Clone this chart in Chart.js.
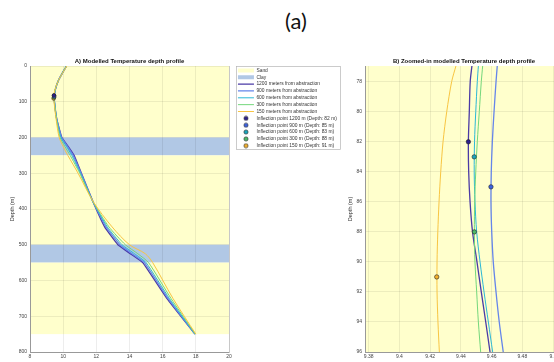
<!DOCTYPE html>
<html>
<head>
<meta charset="utf-8">
<script src="https://cdn.jsdelivr.net/npm/chart.js@4.4.1/dist/chart.umd.min.js"></script>
<style>
  html, body { margin: 0; padding: 0; background: #fff; }
  body { width: 554px; height: 362px; overflow: hidden; position: relative; }
  #caption { position: absolute; left: 256px; width: 80px; top: 7px; text-align: center;
             font: 22px Lato, 'Open Sans', sans-serif; color: #111; }
  #chartA { position: absolute; left: 0; top: 55px; }
  #chartB { position: absolute; left: 340px; top: 55px; }
</style>
</head>
<body>
<div id="caption">(a)</div>
<canvas id="chartA" width="350" height="307"></canvas>
<canvas id="chartB" width="230" height="307"></canvas>
<script>
// distances of the profiles from the abstraction well (m)
const distances = ['1200', '900', '600', '300', '150'];

// full profile: depth (m) and temperature (°C)
const depthFull = [0, 20, 40, 60, 80, 100, 150, 200, 225, 250, 300, 380, 450, 500, 525, 550, 650, 750];
const tFull1200 = [10.2, 9.95, 9.72, 9.56, 9.47, 9.47, 9.62, 9.92, 10.3, 10.66, 11.1, 11.8, 12.5, 13.3, 14.05, 14.8, 16.25, 17.95];
const tFull900  = [10.2, 9.95, 9.72, 9.56, 9.47, 9.48, 9.62, 9.9, 10.26, 10.6, 11.08, 11.8, 12.58, 13.42, 14.15, 14.9, 16.32, 17.95];
const tFull600  = [10.2, 9.95, 9.72, 9.56, 9.47, 9.48, 9.61, 9.86, 10.2, 10.52, 11.04, 11.8, 12.66, 13.55, 14.3, 15.0, 16.4, 17.95];
const tFull300  = [10.2, 9.95, 9.72, 9.56, 9.46, 9.47, 9.6, 9.81, 10.1, 10.42, 11.0, 11.8, 12.76, 13.75, 14.5, 15.15, 16.5, 17.97];
const tFull150  = [10.22, 9.96, 9.72, 9.55, 9.44, 9.45, 9.58, 9.76, 10.0, 10.28, 10.9, 11.82, 12.95, 14.0, 14.95, 15.4, 16.62, 18.0];

// zoomed profile around the inflection points
const depthZoom = [76.95, 78, 80, 82, 84, 86, 88, 90, 92, 94, 96];
const tZoom1200 = [9.4472, 9.4461, 9.4455, 9.4449, 9.4451, 9.4460, 9.4476, 9.4505, 9.4533, 9.4562, 9.4590];
const tZoom900  = [9.4637, 9.4629, 9.4616, 9.4605, 9.4598, 9.4596, 9.4601, 9.4611, 9.4629, 9.4650, 9.4676];
const tZoom600  = [9.4514, 9.4507, 9.4497, 9.4489, 9.4487, 9.4492, 9.4503, 9.4525, 9.4551, 9.4579, 9.4607];
const tZoom300  = [9.4542, 9.4533, 9.4520, 9.4507, 9.4497, 9.4490, 9.4488, 9.4492, 9.4503, 9.4514, 9.4529];
const tZoom150  = [9.4368, 9.4340, 9.4308, 9.4284, 9.4269, 9.4258, 9.4250, 9.4245, 9.4245, 9.4251, 9.4260];

// inflection points (same order as distances)
const inflDepth = [82, 85, 83, 88, 91];
const inflTemp  = [9.4449, 9.4596, 9.4487, 9.4488, 9.4243];

// geological layers
const layerTop  = [0, 200, 250, 500, 550];
const layerBase = [200, 250, 500, 550, 750];
const layerType = ['Sand', 'Clay', 'Sand', 'Clay', 'Sand'];

const SAND = '#ffffcc';
const CLAY = '#b1c8e5';
const GRID = 'rgba(0,0,0,0.07)';
const lineColors  = ['#4a3aa6', '#6585ea', '#2bb8d6', '#74d77c', '#f8c542'];
const lineWidths  = [1.3, 1.3, 1, 1, 1];
const pointColors = ['#2c1f8c', '#3b62e2', '#19a5bd', '#4dba68', '#f4b12d'];

Chart.defaults.font.family = "'Liberation Sans', Arial, sans-serif";
Chart.defaults.color = '#444';
Chart.defaults.animation = false;

const layerPlugin = {
  id: 'layers',
  beforeDraw(chart) {
    const {ctx, chartArea: a} = chart;
    const y = chart.scales.y;
    ctx.save();
    ctx.beginPath();
    ctx.rect(a.left, a.top, a.right - a.left, a.bottom - a.top);
    ctx.clip();
    layerTop.forEach((top, i) => {
      const y0 = y.getPixelForValue(top);
      const y1 = y.getPixelForValue(layerBase[i]);
      ctx.fillStyle = layerType[i] === 'Clay' ? CLAY : SAND;
      ctx.fillRect(a.left, Math.min(y0, y1), a.right - a.left, Math.abs(y1 - y0));
    });
    ctx.restore();
  }
};

// thin frame around the legend entries
const legendBoxPlugin = {
  id: 'legendBox',
  afterDraw(chart) {
    const lg = chart.legend;
    const hb = lg.legendHitBoxes;
    if (!hb || !hb.length) return;
    const last = hb[hb.length - 1];
    const right = Math.max(...hb.map(b => b.left + b.width)) + 3;
    const ctx = chart.ctx;
    ctx.save();
    ctx.strokeStyle = '#b5b5b5';
    ctx.lineWidth = 0.7;
    ctx.strokeRect(Math.round(lg.left) + 0.5, Math.round(lg.top) + 0.5,
                   Math.round(right - lg.left), Math.round(last.top + last.height - lg.top) + 1);
    ctx.restore();
  }
};

// small round marker for the legend (a plain 'circle' gets stretched by pointStyleWidth)
function dotImage(color) {
  const c = document.createElement('canvas');
  c.width = 6; c.height = 6;
  const g = c.getContext('2d');
  g.beginPath();
  g.arc(3, 3, 2.1, 0, Math.PI * 2);
  g.fillStyle = color;
  g.fill();
  g.lineWidth = 0.6;
  g.strokeStyle = '#222';
  g.stroke();
  return c;
}

function lineSet(label, temps, depths, i, tension) {
  return {
    label: label,
    data: temps.map((t, k) => ({x: t, y: depths[k]})),
    showLine: true,
    borderColor: lineColors[i],
    backgroundColor: lineColors[i],
    borderWidth: lineWidths[i],
    pointRadius: 0,
    pointStyle: 'line',
    tension: tension,
    order: 10 - i
  };
}

function inflSet(i, radius) {
  return {
    label: `Inflection point ${distances[i]} m (Depth: ${inflDepth[i]} m)`,
    data: [{x: inflTemp[i], y: inflDepth[i]}],
    showLine: false,
    pointRadius: radius,
    pointStyle: 'circle',
    backgroundColor: pointColors[i],
    borderColor: '#222',
    borderWidth: 0.6,
    order: -1
  };
}

const fullTemps = [tFull1200, tFull900, tFull600, tFull300, tFull150];
const zoomTemps = [tZoom1200, tZoom900, tZoom600, tZoom300, tZoom150];
const fullTension = [0.1, 0.1, 0.15, 0.2, 0.3];

const datasetsA = [
  {label: 'Sand', data: [], pointStyle: 'rect', backgroundColor: SAND, borderColor: SAND, borderWidth: 0},
  {label: 'Clay', data: [], pointStyle: 'rect', backgroundColor: CLAY, borderColor: CLAY, borderWidth: 0}
];
distances.forEach((d, i) => datasetsA.push(lineSet(`${d} meters from abstraction`, fullTemps[i], depthFull, i, fullTension[i])));
distances.forEach((d, i) => datasetsA.push(inflSet(i, 1.8)));

const datasetsB = [];
distances.forEach((d, i) => datasetsB.push(lineSet(`${d} meters from abstraction`, zoomTemps[i], depthZoom, i, 0.3)));
distances.forEach((d, i) => datasetsB.push(inflSet(i, 2.2)));

const tickFont = {size: 5};

const chartA = new Chart(document.getElementById('chartA'), {
  type: 'scatter',
  data: {datasets: datasetsA},
  options: {
    responsive: false,
    events: [],
    layout: {padding: {left: 0, right: 10, top: 0, bottom: 0}},
    plugins: {
      title: {
        display: true, fullSize: false,
        text: 'A) Modelled Temperature depth profile',
        color: '#111', font: {size: 6, weight: 'bold'},
        padding: {top: 2.8, bottom: 1}
      },
      legend: {
        display: true, position: 'right', align: 'start', fullSize: false, maxWidth: 160,
        labels: {
          usePointStyle: true, pointStyleWidth: 16, boxHeight: 4,
          padding: 1.95, color: '#333', font: {size: 4.9},
          sort: (a, b) => a.datasetIndex - b.datasetIndex,
          generateLabels: chart => Chart.defaults.plugins.legend.labels.generateLabels(chart).map(item => {
            if (item.pointStyle === 'circle') item.pointStyle = dotImage(item.fillStyle);
            return item;
          })
        }
      },
      tooltip: {enabled: false}
    },
    scales: {
      x: {
        type: 'linear', min: 8, max: 20,
        ticks: {stepSize: 2, font: tickFont, padding: 2},
        grid: {color: GRID, drawTicks: false},
        border: {color: '#999'},
        afterFit: s => { s.height = 10; }
      },
      y: {
        type: 'linear', reverse: true, min: 0, max: 800,
        ticks: {stepSize: 100, font: tickFont, padding: 3},
        grid: {color: GRID, drawTicks: false},
        border: {color: '#999'},
        title: {display: true, text: 'Depth (m)', color: '#333', font: {size: 5.5}, padding: {top: 9.2, bottom: 0}},
        afterFit: s => { s.width = 30; }
      },
      yEdge: {
        type: 'linear', position: 'right', display: true,
        grid: {display: false}, ticks: {display: false},
        border: {color: '#c8c8c8'},
        afterFit: s => { s.width = 7; }
      }
    }
  },
  plugins: [layerPlugin, legendBoxPlugin]
});

// put the legend's left edge at x = 236
chartA.options.layout.padding.right = Math.max(0, 350 - 236 - chartA.legend.width);
chartA.update('none');

new Chart(document.getElementById('chartB'), {
  type: 'scatter',
  data: {datasets: datasetsB},
  options: {
    responsive: false,
    events: [],
    layout: {padding: {left: 0, right: 7, top: 0, bottom: 0}},
    plugins: {
      title: {
        display: true, fullSize: false,
        text: 'B) Zoomed-in modelled Temperature depth profile',
        color: '#111', font: {size: 6, weight: 'bold'},
        padding: {top: 2.8, bottom: 1}
      },
      legend: {display: false},
      tooltip: {enabled: false}
    },
    scales: {
      x: {
        type: 'linear', min: 9.3776, max: 9.5065,
        ticks: {stepSize: 0.02, includeBounds: false, font: tickFont, padding: 2,
                callback: v => String(+v.toFixed(2))},
        grid: {color: GRID, drawTicks: false},
        border: {color: '#999'},
        afterFit: s => { s.height = 10; }
      },
      y: {
        type: 'linear', reverse: true, min: 76.95, max: 96,
        ticks: {stepSize: 2, includeBounds: false, font: tickFont, padding: 3},
        grid: {color: GRID, drawTicks: false},
        border: {color: '#999'},
        title: {display: true, text: 'Depth (m)', color: '#333', font: {size: 5.5}, padding: {top: 6.7, bottom: 0}},
        afterFit: s => { s.width = 25; }
      }
    }
  },
  plugins: [layerPlugin]
});
</script>
</body>
</html>
